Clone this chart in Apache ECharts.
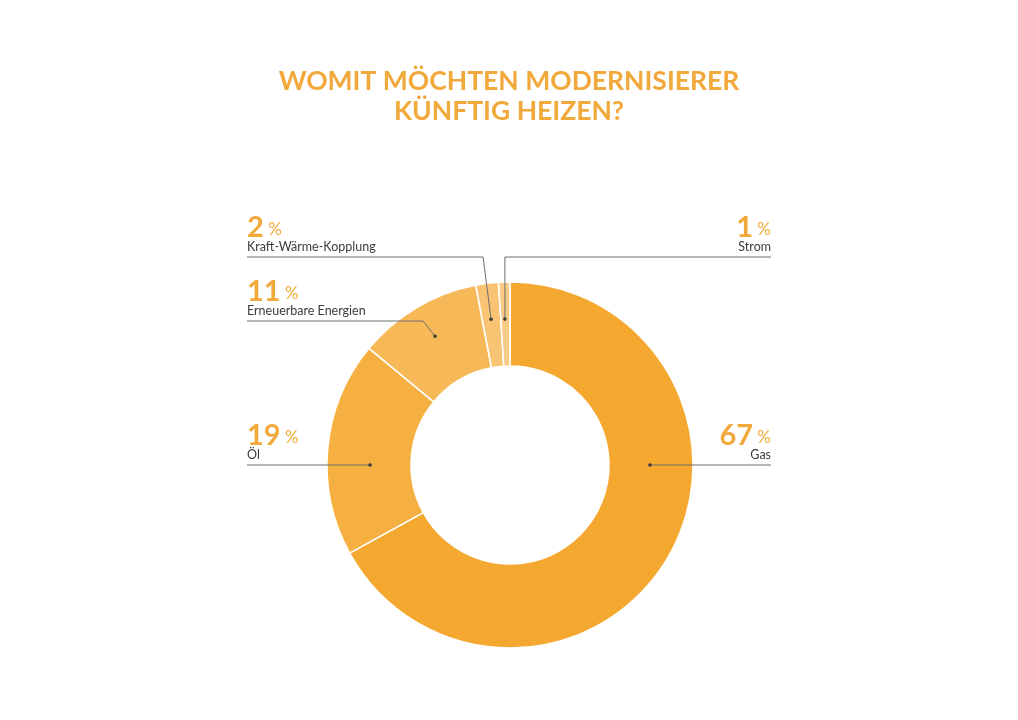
<!DOCTYPE html>
<html><head><meta charset="utf-8">
<script src="https://cdn.jsdelivr.net/npm/echarts@6/dist/echarts.min.js"></script>
<style>html,body{margin:0;padding:0;background:#fff}#c{width:1018px;height:720px}</style>
</head><body><div id="c"></div>
<script>
// Data
const categories = ['Gas', 'Öl', 'Erneuerbare Energien', 'Kraft-Wärme-Kopplung', 'Strom'];
const values = [67, 19, 11, 2, 1];
const sliceColors = ['#F5A830', '#F6B041', '#F7B957', '#F8C474', '#F9CB84'];
const titleText = 'WOMIT MÖCHTEN MODERNISIERER\nKÜNFTIG HEIZEN?';

// Layout (annotation placement)
const CX = 510, CY = 465, R0 = 99, R1 = 183;
const LEFT_X = 247, RIGHT_X = 771;
// anchor: angle clockwise from top (deg), radius; lineY: y of horizontal leader; elbowDx: elbow offset from anchor x
const annot = [
  {side: 'right', ang: 90,    r: 140, lineY: 465, elbowDx: 0},
  {side: 'left',  ang: 270,   r: 140, lineY: 465, elbowDx: 0},
  {side: 'left',  ang: 329.8, r: 149, lineY: 321, elbowDx: -12},
  {side: 'left',  ang: 352.6, r: 147, lineY: 257, elbowDx: -8},
  {side: 'right', ang: 358,   r: 146, lineY: 257, elbowDx: 0}
];
const ORANGE = '#F2A93B';

function anchorPt(a) {
  const t = a.ang * Math.PI / 180;
  return [CX + a.r * Math.sin(t), CY - a.r * Math.cos(t)];
}

const graphics = [];
annot.forEach(a => {
  const p = anchorPt(a);
  const elbow = [p[0] + a.elbowDx, a.lineY];
  const end = [a.side === 'left' ? LEFT_X : RIGHT_X, a.lineY];
  graphics.push({type: 'polyline', z: 10, silent: true,
    shape: {points: [p, elbow, end]},
    style: {stroke: '#6e6e6e', lineWidth: 1, fill: null}});
  graphics.push({type: 'circle', z: 11, silent: true,
    shape: {cx: p[0], cy: p[1], r: 1.8}, style: {fill: '#3a3a3a'}});
});

const chart = echarts.init(document.getElementById('c'), null, {renderer: 'canvas'});
chart.setOption({
  backgroundColor: '#fff',
  animation: false,
  title: {
    text: titleText, left: 'center', top: 61,
    textStyle: {fontFamily: 'Lato', fontSize: 26.5, fontWeight: 'bold', color: ORANGE, lineHeight: 30}
  },
  graphic: graphics,
  series: [{
    type: 'pie',
    center: [CX, CY],
    radius: [R0, R1],
    startAngle: 90,
    clockwise: true,
    avoidLabelOverlap: false,
    data: categories.map((c, i) => ({name: c, value: values[i], itemStyle: {color: sliceColors[i]}})),
    itemStyle: {borderColor: '#fff', borderWidth: 1.5},
    label: {
      show: true,
      position: 'outside',
      fontFamily: 'Lato',
      formatter: p => '{v|' + p.value + '}{p| %}\n{n|' + p.name + '}',
      rich: {
        v: {fontFamily: 'Lato', fontSize: 29, fontWeight: 'bold', color: ORANGE, lineHeight: 20},
        p: {fontFamily: 'Lato', fontSize: 17, color: ORANGE, lineHeight: 20, padding: [4, 0, 0, 0]},
        n: {fontFamily: 'Lato', fontSize: 12.5, color: '#3c3c3c', lineHeight: 17}
      }
    },
    labelLine: {show: false},
    emphasis: {disabled: true},
    labelLayout: p => {
      const a = annot[p.dataIndex];
      return {
        x: a.side === 'left' ? LEFT_X : RIGHT_X,
        y: a.lineY - 2,
        align: a.side,
        verticalAlign: 'bottom'
      };
    }
  }]
});
</script>
</body></html>
